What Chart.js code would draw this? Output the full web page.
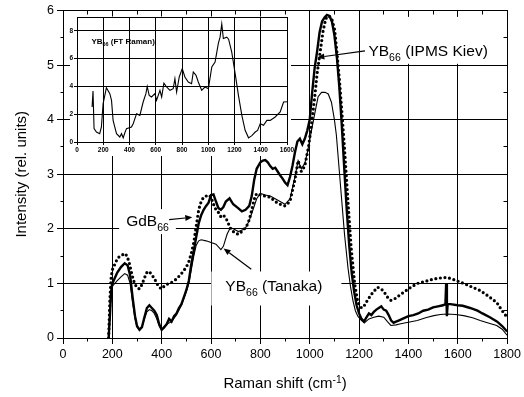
<!DOCTYPE html>
<html>
<head>
<meta charset="utf-8">
<script src="https://cdn.jsdelivr.net/npm/chart.js@4.4.0/dist/chart.umd.min.js"></script>
<style>
    html, body { margin: 0; padding: 0; background: #fff; }
    #wrap  { position: relative; width: 524px; height: 397px; }
    #main  { position: absolute; left: 0; top: 0; }
    #inset { position: absolute; left: 60px; top: 10px; }
</style>
</head>
<body>
<div id="wrap">
    <canvas id="main" width="524" height="397"></canvas>
    <canvas id="inset" width="236" height="146"></canvas>
</div>
<script>
/* Raman spectra of YB66 / GdB66 - main plot + FT Raman inset */

/* ── Data ── */
var kievX = [185,190,195,200,210,220,235,250,262,272,
             282,292,300,310,320,330,340,350,360,370,
             380,390,400,410,420,430,440,450,460,470,
             480,490,500,510,520,530,540,550,560,570,
             580,590,600,610,620,630,640,650,660,675,
             690,710,725,740,755,765,775,785,800,810,
             820,830,840,850,860,870,880,890,900,910,
             920,930,940,950,960,970,980,990,1000,1010,
             1020,1030,1040,1050,1060,1070,1080,1090,1100,1110,
             1120,1130,1140,1150,1160,1170,1180,1190,1200,1210,
             1220,1230,1240,1250,1260,1270,1280,1290,1300,1310,
             1320,1330,1340,1350,1360,1380,1400,1420,1440,1460,
             1480,1500,1520,1540,1550,1553,1556,1559,1570,1600,
             1620,1650,1680,1700,1730,1760,1780,1800];
var kievY = [0,0.4,0.85,1.0,1.1,1.2,1.3,1.37,1.33,1.15,
             0.75,0.4,0.22,0.15,0.2,0.38,0.55,0.6,0.55,0.5,
             0.42,0.25,0.15,0.2,0.25,0.35,0.3,0.4,0.45,0.55,
             0.62,0.75,0.88,1.05,1.35,1.6,1.85,2.1,2.25,2.35,
             2.42,2.48,2.62,2.63,2.5,2.38,2.35,2.4,2.5,2.56,
             2.45,2.38,2.32,2.35,2.42,2.6,2.9,3.1,3.22,3.25,
             3.26,3.22,3.15,3.1,3.12,3.05,2.98,2.92,2.85,2.8,
             2.95,3.15,3.4,3.6,3.65,3.55,3.65,3.8,4.0,4.5,
             4.95,5.25,5.6,5.8,5.87,5.92,5.9,5.8,5.55,5.15,
             4.6,3.9,3.1,2.35,1.7,1.2,0.85,0.6,0.45,0.35,
             0.3,0.38,0.45,0.42,0.48,0.52,0.55,0.58,0.52,0.5,
             0.42,0.32,0.28,0.3,0.32,0.36,0.4,0.42,0.45,0.5,
             0.52,0.56,0.58,0.6,0.62,1.0,0.4,0.62,0.62,0.6,
             0.59,0.55,0.5,0.45,0.38,0.3,0.22,0.12];

var gdbX = [185,190,195,200,210,220,230,240,250,260,
            270,280,290,300,310,320,330,340,350,360,
            370,380,390,400,410,420,440,460,480,500,
            510,520,530,540,550,560,570,580,590,600,
            610,620,630,640,650,660,670,680,690,700,
            710,720,730,740,750,760,770,780,790,800,
            820,840,860,880,900,920,940,953,966,980,
            995,1007,1020,1030,1041,1054,1065,1075,1088,1101,
            1111,1121,1131,1141,1155,1168,1182,1195,1210,1222,
            1235,1250,1265,1275,1290,1302,1315,1329,1345,1369,
            1400,1436,1470,1503,1530,1557,1590,1624,1660,1691,
            1720,1758,1780,1800];
var gdbY = [0,0.7,1.1,1.25,1.35,1.45,1.5,1.52,1.55,1.5,
            1.35,1.15,1.0,0.92,0.9,0.98,1.1,1.2,1.22,1.15,
            1.1,1.0,0.93,0.9,0.95,0.98,1.02,1.08,1.18,1.3,
            1.4,1.55,1.75,2.05,2.35,2.5,2.58,2.6,2.62,2.58,
            2.45,2.35,2.3,2.22,2.25,2.2,2.1,2.0,1.95,1.92,
            1.9,1.93,1.98,2.02,2.1,2.25,2.45,2.62,2.65,2.62,
            2.6,2.58,2.5,2.45,2.42,2.5,2.9,3.25,3.05,3.15,
            3.5,3.9,4.4,4.85,5.2,5.62,5.85,5.9,5.87,5.65,
            5.2,4.7,4.1,3.47,2.5,1.65,1.0,0.65,0.55,0.6,
            0.7,0.8,0.88,0.93,0.9,0.84,0.75,0.69,0.72,0.8,
            0.9,1.0,1.04,1.08,1.1,1.11,1.06,1.0,0.93,0.87,
            0.78,0.65,0.5,0.38];

var tanakaX = [185,190,195,200,210,220,235,250,262,272,
               282,292,300,310,320,330,340,350,360,370,
               380,390,400,410,420,440,460,480,500,510,
               520,530,540,550,560,580,600,620,640,650,
               665,678,690,711,738,755,770,785,800,820,
               840,860,880,900,920,940,953,966,980,993,
               1007,1020,1034,1048,1062,1075,1088,1100,1108,1121,
               1131,1141,1155,1165,1175,1185,1195,1210,1222,1240,
               1260,1280,1300,1315,1329,1350,1369,1400,1436,1470,
               1503,1530,1557,1590,1624,1660,1691,1720,1758,1780,
               1800];
var tanakaY = [0,0.5,0.8,0.95,1.0,1.05,1.12,1.18,1.15,1.0,
               0.65,0.35,0.2,0.15,0.2,0.35,0.48,0.52,0.5,0.45,
               0.35,0.22,0.15,0.18,0.25,0.3,0.42,0.6,0.85,1.0,
               1.25,1.5,1.7,1.78,1.8,1.78,1.75,1.72,1.62,1.68,
               1.9,2.02,2.0,1.95,2.0,2.15,2.35,2.55,2.65,2.62,
               2.6,2.55,2.5,2.45,2.55,2.95,3.25,3.1,3.2,3.45,
               3.8,4.1,4.42,4.5,4.5,4.47,4.32,4.0,3.72,3.0,
               2.45,1.9,1.29,0.95,0.69,0.5,0.4,0.32,0.28,0.35,
               0.38,0.4,0.38,0.3,0.23,0.24,0.26,0.29,0.32,0.37,
               0.41,0.43,0.44,0.43,0.41,0.37,0.32,0.28,0.23,0.16,
               0.05];

/* inset: YB66 FT Raman */
var ftX = [115,122,130,148,173,186,199,224,250,263,
           275,301,326,339,352,364,377,415,428,454,
           479,504,525,535,550,568,594,606,632,645,
           662,683,708,733,746,759,779,802,822,848,
           873,886,907,924,950,975,1001,1027,1052,1077,
           1090,1103,1115,1141,1155,1179,1205,1230,1256,1281,
           1307,1332,1358,1376,1396,1421,1447,1472,1510,1548,
           1574,1600];
var ftY = [2.52,3.67,0.96,0.72,0.6,1.08,2.76,3.91,3.48,3.0,
           1.56,0.6,0.36,0.6,0.3,0.65,0.96,1.08,1.32,2.04,
           1.92,2.88,3.48,4.0,3.36,3.24,3.48,3.0,3.72,3.24,
           4.24,3.96,3.72,3.84,4.56,3.6,4.68,5.28,4.68,4.32,
           4.2,5.04,4.8,4.32,3.72,3.96,3.84,5.4,5.76,7.1,
           7.55,8.5,7.45,7.55,7.4,6.47,4.92,3.36,1.92,0.84,
           0.3,0.46,0.72,0.84,1.32,1.2,1.56,1.56,1.8,2.16,
           2.88,2.9];

/* annotations: text anchor in data units, white pad box, arrow from -> to */
var notes = [
    { parts: [['GdB', 0], ['66', 1]],                      x: 256,  y: 2.05, pad: [7, 17, 7, 8],   arrow: [430, 2.17, 524, 2.21] },
    { parts: [['YB', 0], ['66', 1], [' (Tanaka)', 0]],     x: 658,  y: 0.87, pad: [14, 19, 19, 15], arrow: [763, 1.26, 651, 1.64] },
    { parts: [['YB', 0], ['66', 1], [' (IPMS Kiev)', 0]],  x: 1238, y: 5.17, pad: [5, 39, 8, 8],   arrow: [1224, 5.26, 1031, 5.14] }
];

Chart.defaults.font.family = 'Arial, "Liberation Sans", sans-serif';
Chart.defaults.color = '#000';

function zip(xs, ys) {
    var out = [];
    for (var i = 0; i < xs.length; i++) out.push({ x: xs[i], y: ys[i] });
    return out;
}
function plain(v) { return String(v); }

/* text with sub(1)/super(-1)script pieces */
function partsWidth(ctx, parts, size, weight) {
    var w = 0;
    parts.forEach(function(p) {
        ctx.font = (weight || '') + ' ' + (p[1] ? size * 0.68 : size) + 'px Arial';
        w += ctx.measureText(p[0]).width;
    });
    return w;
}
function drawParts(ctx, parts, x, y, size, weight) {
    var cx = x;
    ctx.textBaseline = 'alphabetic';
    ctx.textAlign = 'left';
    parts.forEach(function(p) {
        ctx.font = (weight || '') + ' ' + (p[1] ? size * 0.68 : size) + 'px Arial';
        ctx.fillText(p[0], cx, y + p[1] * size * 0.33);
        cx += ctx.measureText(p[0]).width;
    });
    return cx;
}
function arrow(ctx, x1, y1, x2, y2) {
    var a = Math.atan2(y2 - y1, x2 - x1), L = 7, H = 3;
    ctx.beginPath();
    ctx.moveTo(x1, y1);
    ctx.lineTo(x2 - L * Math.cos(a), y2 - L * Math.sin(a));
    ctx.lineWidth = 1.2;
    ctx.stroke();
    ctx.beginPath();
    ctx.moveTo(x2, y2);
    ctx.lineTo(x2 - L * Math.cos(a) + H * Math.sin(a), y2 - L * Math.sin(a) - H * Math.cos(a));
    ctx.lineTo(x2 - L * Math.cos(a) - H * Math.sin(a), y2 - L * Math.sin(a) + H * Math.cos(a));
    ctx.closePath();
    ctx.fill();
}
function al(v) { return Math.round(v - 0.5) + 0.5; }

var NOTE_SIZE = 15.5;

/* ── Main plot decorations ── */
var mainDecor = {
    id: 'mainDecor',
    afterDatasetsDraw: function(chart) {
        var ctx = chart.ctx, xs = chart.scales.x, ys = chart.scales.y;
        ctx.save();
        ctx.fillStyle = '#fff';
        // white panel behind the inset
        ctx.fillRect(70, 15, 221, 141);
        notes.forEach(function(n) {
            var px = xs.getPixelForValue(n.x), py = ys.getPixelForValue(n.y);
            var w = partsWidth(ctx, n.parts, NOTE_SIZE);
            ctx.fillRect(px - n.pad[0], py - n.pad[1], w + n.pad[0] + n.pad[2], n.pad[1] + n.pad[3]);
        });
        ctx.restore();
    },
    afterDraw: function(chart) {
        var ctx = chart.ctx, a = chart.chartArea, xs = chart.scales.x, ys = chart.scales.y;
        var L = al(a.left), R = al(a.right), T = al(a.top), B = al(a.bottom);
        ctx.save();
        ctx.strokeStyle = '#000';
        ctx.fillStyle = '#000';
        ctx.lineWidth = 1;
        ctx.strokeRect(L, T, R - L, B - T);

        ctx.beginPath();
        var v, p, major;
        for (v = 0; v <= 1800; v += 100) {
            p = al(xs.getPixelForValue(v));
            major = v % 200 === 0;
            if (!major) { ctx.moveTo(p, B); ctx.lineTo(p, B + 3); }
            ctx.moveTo(p, T); ctx.lineTo(p, T + (major ? 6 : 4));
        }
        for (v = 0; v <= 6; v += 0.5) {
            p = al(ys.getPixelForValue(v));
            major = v % 1 === 0;
            if (!major) { ctx.moveTo(L, p); ctx.lineTo(L - 3, p); }
            ctx.moveTo(R, p); ctx.lineTo(R - (major ? 6 : 4), p);
        }
        ctx.stroke();

        // labels and arrows
        notes.forEach(function(n) {
            var px = xs.getPixelForValue(n.x), py = ys.getPixelForValue(n.y);
            drawParts(ctx, n.parts, px, py, NOTE_SIZE);
            arrow(ctx, xs.getPixelForValue(n.arrow[0]), ys.getPixelForValue(n.arrow[1]),
                       xs.getPixelForValue(n.arrow[2]), ys.getPixelForValue(n.arrow[3]));
        });

        // axis titles
        ctx.font = '15px Arial';
        ctx.textAlign = 'center';
        ctx.textBaseline = 'middle';
        ctx.save();
        ctx.translate(22, (a.top + a.bottom) / 2);
        ctx.rotate(-Math.PI / 2);
        ctx.fillText('Intensity (rel. units)', 0, 0);
        ctx.restore();

        var xt = [['Raman shift (cm', 0], ['-1', -1], [')', 0]];
        var w = partsWidth(ctx, xt, 15);
        drawParts(ctx, xt, (a.left + a.right) / 2 - w / 2, 388, 15);
        ctx.restore();
    }
};

var tickFont = { family: 'Arial', size: 12.5 };

new Chart(document.getElementById('main'), {
    type: 'scatter',
    data: {
        datasets: [
            { label: 'YB66 (IPMS Kiev)', data: zip(kievX, kievY), showLine: true,
              borderColor: '#000', borderWidth: 2.4, pointRadius: 0, tension: 0 },
            { label: 'GdB66', data: zip(gdbX, gdbY), showLine: true,
              borderColor: '#000', borderWidth: 3.2, borderDash: [0, 4.6], borderCapStyle: 'round', pointRadius: 0 },
            { label: 'YB66 (Tanaka)', data: zip(tanakaX, tanakaY), showLine: true,
              borderColor: '#000', borderWidth: 1.1, pointRadius: 0 }
        ]
    },
    options: {
        responsive: false, animation: false, events: [],
        layout: { padding: { top: 8, right: 14, left: 0, bottom: 0 } },
        plugins: { legend: { display: false }, tooltip: { enabled: false } },
        scales: {
            x: {
                type: 'linear', min: 0, max: 1800,
                ticks: { stepSize: 200, font: tickFont, color: '#000', padding: 3, maxRotation: 0, autoSkip: false, callback: plain },
                grid: { color: '#000', lineWidth: 1, tickLength: 6 },
                border: { color: '#000', width: 1 },
                afterFit: function(s) { s.height = 59; }
            },
            y: {
                min: 0, max: 6,
                ticks: { stepSize: 1, font: tickFont, color: '#000', padding: 3, callback: plain },
                grid: { color: '#000', lineWidth: 1, tickLength: 6 },
                border: { color: '#000', width: 1 },
                afterFit: function(s) { s.width = 63; }
            }
        }
    },
    plugins: [mainDecor]
});

/* ── Inset ── */
var insetDecor = {
    id: 'insetDecor',
    afterDraw: function(chart) {
        var ctx = chart.ctx, a = chart.chartArea, xs = chart.scales.x, ys = chart.scales.y;
        ctx.save();
        ctx.strokeStyle = '#000';
        ctx.fillStyle = '#000';
        ctx.lineWidth = 1;
        ctx.strokeRect(al(a.left), al(a.top), al(a.right) - al(a.left), al(a.bottom) - al(a.top));
        drawParts(ctx, [['YB', 0], ['66', 1], [' (FT Raman)', 0]],
                  xs.getPixelForValue(110), ys.getPixelForValue(7.08), 8, 'bold');
        ctx.restore();
    }
};

var insetFont = { family: 'Arial', size: 6.5, weight: 'bold' };

new Chart(document.getElementById('inset'), {
    type: 'scatter',
    data: {
        datasets: [
            { label: 'YB66 (FT Raman)', data: zip(ftX, ftY), showLine: true,
              borderColor: '#000', borderWidth: 1.1, pointRadius: 0 }
        ]
    },
    options: {
        responsive: false, animation: false, events: [],
        layout: { padding: { top: 7, right: 9, left: 0, bottom: 0 } },
        plugins: { legend: { display: false }, tooltip: { enabled: false } },
        scales: {
            x: {
                type: 'linear', min: 0, max: 1600,
                ticks: { stepSize: 200, font: insetFont, color: '#000', padding: 1, maxRotation: 0, autoSkip: false, callback: plain },
                grid: { color: '#000', lineWidth: 1, tickLength: 3 },
                border: { color: '#000' },
                afterFit: function(s) { s.height = 14; }
            },
            y: {
                min: 0, max: 9,
                ticks: { stepSize: 2, includeBounds: false, font: insetFont, color: '#000', padding: 1, callback: plain },
                grid: { color: '#000', lineWidth: 1, tickLength: 3 },
                border: { color: '#000' },
                afterFit: function(s) { s.width = 17; }
            }
        }
    },
    plugins: [insetDecor]
});
</script>
</body>
</html>
